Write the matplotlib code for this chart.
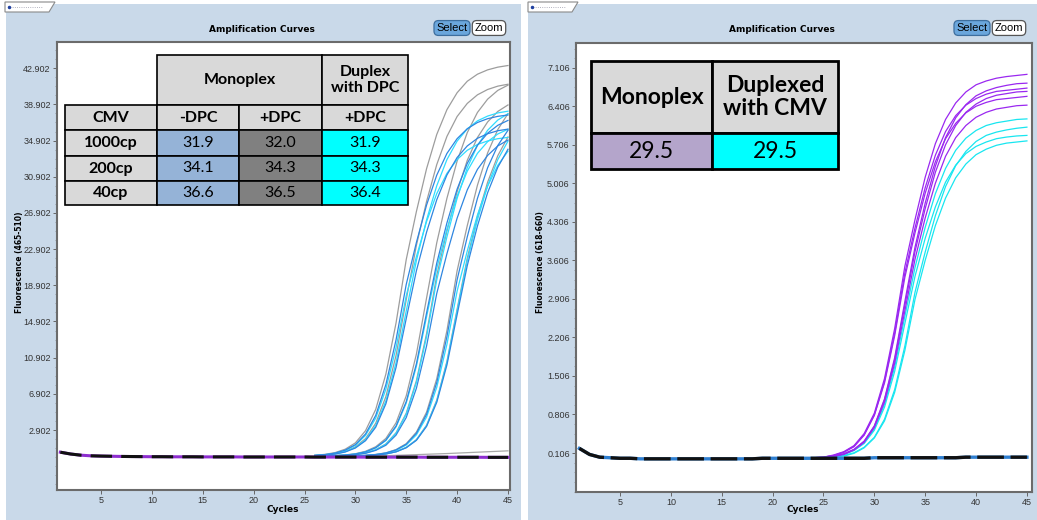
import matplotlib
matplotlib.use("Agg")
import matplotlib.pyplot as plt
from matplotlib.patches import Rectangle, Polygon
from matplotlib.lines import Line2D
from matplotlib.ticker import AutoMinorLocator

plt.rcParams['font.family'] = ['Liberation Sans', 'DejaVu Sans']

# ---------------- data ----------------
cycles_all = list(range(1, 46))
left_cycles = list(range(26, 46))
right_cycles = list(range(22, 46))

# left panel (465-510), three CMV dilutions, cycles 26..45
left_gray = [
    [0.11, 0.21, 0.40, 0.78, 1.48, 2.83, 5.18, 9.09, 14.75, 21.75, 27.06, 31.80, 35.58, 38.32, 40.19, 41.46, 42.24, 42.72, 43.02, 43.20],
    [0.07, 0.15, 0.28, 0.54, 1.04, 1.95, 3.65, 6.60, 11.16, 17.31, 23.32, 28.18, 32.25, 35.36, 37.56, 39.01, 39.96, 40.55, 40.92, 41.13],
    [0.02, 0.04, 0.08, 0.15, 0.28, 0.55, 1.05, 1.97, 3.70, 6.68, 11.30, 17.51, 23.60, 28.52, 32.63, 35.78, 38.01, 39.48, 40.45, 41.03],
    [0.01, 0.02, 0.05, 0.10, 0.19, 0.37, 0.72, 1.36, 2.60, 4.76, 8.36, 13.56, 20.00, 24.88, 29.24, 32.72, 35.24, 36.96, 38.12, 38.84],
    [0.00, 0.00, 0.01, 0.02, 0.05, 0.10, 0.20, 0.38, 0.74, 1.39, 2.67, 4.88, 8.57, 13.90, 20.50, 25.50, 29.97, 33.54, 36.12, 37.88],
    [0.00, 0.00, 0.01, 0.02, 0.04, 0.07, 0.14, 0.26, 0.51, 0.98, 1.83, 3.43, 6.20, 10.49, 16.26, 21.92, 26.48, 30.30, 33.23, 35.30],
]
left_blue = [
    [0.10, 0.18, 0.35, 0.68, 1.29, 2.47, 4.52, 7.94, 12.88, 19.00, 23.64, 27.78, 31.08, 33.48, 35.11, 36.21, 36.90, 37.32, 37.58, 37.73],
    [0.07, 0.13, 0.24, 0.47, 0.91, 1.72, 3.21, 5.80, 9.82, 15.22, 20.51, 24.78, 28.36, 31.10, 33.03, 34.31, 35.15, 35.66, 35.99, 36.17],
    [0.02, 0.03, 0.07, 0.13, 0.25, 0.49, 0.95, 1.79, 3.34, 6.04, 10.22, 15.85, 21.36, 25.80, 29.53, 32.38, 34.39, 35.72, 36.59, 37.13],
    [0.01, 0.02, 0.05, 0.09, 0.17, 0.33, 0.65, 1.22, 2.34, 4.28, 7.52, 12.20, 18.00, 22.39, 26.32, 29.45, 31.72, 33.26, 34.31, 34.96],
    [0.00, 0.00, 0.01, 0.02, 0.05, 0.10, 0.19, 0.36, 0.70, 1.33, 2.54, 4.64, 8.15, 13.22, 19.50, 24.26, 28.51, 31.90, 34.36, 36.04],
    [0.00, 0.00, 0.01, 0.02, 0.03, 0.07, 0.13, 0.25, 0.49, 0.94, 1.76, 3.30, 5.96, 10.09, 15.64, 21.08, 25.46, 29.14, 31.95, 33.94],
]
left_cyan = [
    [0.07, 0.13, 0.26, 0.50, 0.96, 1.81, 3.39, 6.12, 10.36, 16.05, 21.64, 26.14, 29.91, 32.80, 34.84, 36.19, 37.08, 37.61, 37.96, 38.15],
    [0.09, 0.17, 0.33, 0.64, 1.21, 2.31, 4.22, 7.42, 12.03, 17.75, 22.08, 25.95, 29.04, 31.28, 32.80, 33.83, 34.47, 34.86, 35.11, 35.25],
    [0.01, 0.02, 0.05, 0.10, 0.19, 0.36, 0.70, 1.33, 2.54, 4.64, 8.15, 13.22, 19.50, 24.26, 28.51, 31.90, 34.36, 36.04, 37.17, 37.87],
    [0.02, 0.03, 0.07, 0.13, 0.25, 0.48, 0.93, 1.74, 3.26, 5.88, 9.95, 15.43, 20.79, 25.12, 28.75, 31.52, 33.49, 34.78, 35.63, 36.15],
    [0.00, 0.00, 0.01, 0.02, 0.03, 0.07, 0.13, 0.26, 0.50, 0.96, 1.81, 3.39, 6.12, 10.36, 16.05, 21.64, 26.14, 29.91, 32.80, 34.84],
    [0.00, 0.00, 0.01, 0.02, 0.05, 0.09, 0.18, 0.34, 0.66, 1.24, 2.37, 4.34, 7.63, 12.37, 18.25, 22.70, 26.68, 29.86, 32.16, 33.73],
]
left_drift = [-0.08, -0.08, -0.08, -0.08, -0.05, -0.02, 0.02, 0.06, 0.10, 0.14,
              0.18, 0.22, 0.26, 0.30, 0.35, 0.40, 0.45, 0.50, 0.55, 0.60]
left_base = [0.45, 0.25, 0.12, 0.05, 0.02, 0.0, -0.02, -0.03, -0.04, -0.05,
             -0.05, -0.06, -0.06, -0.06, -0.07, -0.07, -0.07, -0.07, -0.08, -0.08,
             -0.08, -0.08, -0.08, -0.08, -0.08, -0.09, -0.09, -0.09, -0.09, -0.09,
             -0.10, -0.10, -0.10, -0.10, -0.10, -0.10, -0.11, -0.11, -0.11, -0.11,
             -0.11, -0.11, -0.12, -0.12, -0.12]

# right panel (618-660), cycles 22..45
right_purple = [
    [0.00, 0.01, 0.02, 0.03, 0.07, 0.13, 0.24, 0.46, 0.83, 1.46, 2.37, 3.50, 4.35, 5.12, 5.73, 6.17, 6.47, 6.67, 6.80, 6.87, 6.92, 6.95, 6.97, 6.99],
    [0.00, 0.01, 0.01, 0.02, 0.05, 0.09, 0.17, 0.32, 0.60, 1.09, 1.84, 2.86, 3.85, 4.65, 5.32, 5.84, 6.20, 6.44, 6.60, 6.69, 6.75, 6.79, 6.82, 6.83],
    [0.00, 0.01, 0.02, 0.03, 0.06, 0.12, 0.23, 0.44, 0.80, 1.41, 2.29, 3.38, 4.20, 4.93, 5.52, 5.95, 6.24, 6.43, 6.55, 6.63, 6.68, 6.70, 6.72, 6.74],
    [0.00, 0.01, 0.01, 0.02, 0.05, 0.09, 0.17, 0.32, 0.59, 1.07, 1.80, 2.79, 3.77, 4.55, 5.21, 5.71, 6.06, 6.30, 6.45, 6.55, 6.61, 6.64, 6.67, 6.68],
    [0.00, 0.01, 0.02, 0.03, 0.06, 0.12, 0.22, 0.43, 0.79, 1.38, 2.24, 3.30, 4.11, 4.83, 5.40, 5.82, 6.10, 6.29, 6.41, 6.48, 6.53, 6.55, 6.57, 6.59],
    [0.00, 0.01, 0.01, 0.02, 0.04, 0.08, 0.16, 0.30, 0.57, 1.03, 1.74, 2.69, 3.63, 4.38, 5.01, 5.50, 5.84, 6.06, 6.21, 6.30, 6.36, 6.39, 6.42, 6.43],
]
right_cyan = [
    [0.00, 0.01, 0.01, 0.02, 0.04, 0.08, 0.16, 0.29, 0.55, 0.99, 1.67, 2.59, 3.48, 4.21, 4.82, 5.28, 5.61, 5.83, 5.97, 6.06, 6.11, 6.14, 6.17, 6.18],
    [0.00, 0.00, 0.01, 0.02, 0.03, 0.06, 0.11, 0.21, 0.39, 0.72, 1.26, 2.05, 3.03, 3.76, 4.42, 4.95, 5.33, 5.59, 5.77, 5.88, 5.94, 5.98, 6.01, 6.03],
    [0.00, 0.01, 0.01, 0.02, 0.04, 0.08, 0.15, 0.28, 0.52, 0.94, 1.59, 2.46, 3.32, 4.01, 4.58, 5.03, 5.34, 5.55, 5.68, 5.76, 5.82, 5.85, 5.87, 5.88],
    [0.00, 0.00, 0.01, 0.02, 0.03, 0.05, 0.10, 0.20, 0.38, 0.69, 1.21, 1.97, 2.90, 3.61, 4.24, 4.74, 5.11, 5.36, 5.53, 5.63, 5.70, 5.74, 5.76, 5.78],
]
right_base = [0.19, 0.08, 0.03, 0.02, 0.01, 0.01, 0.0, 0.0, 0.0, 0.0,
              0.0, 0.0, 0.0, 0.0, 0.0, 0.0, 0.0, 0.0, 0.01, 0.01,
              0.01, 0.01, 0.01, 0.01, 0.01, 0.01, 0.01, 0.01, 0.01, 0.02,
              0.02, 0.02, 0.02, 0.02, 0.02, 0.02, 0.02, 0.02, 0.03, 0.03,
              0.03, 0.03, 0.03, 0.03, 0.03]

left_yticks = [2.902, 6.902, 10.902, 14.902, 18.902, 22.902, 26.902, 30.902, 34.902, 38.902, 42.902]
right_yticks = [0.106, 0.806, 1.506, 2.206, 2.906, 3.606, 4.306, 5.006, 5.706, 6.406, 7.106]
xticks = [5, 10, 15, 20, 25, 30, 35, 40, 45]

# tables
cmv_rows = ["1000cp", "200cp", "40cp"]
mono_minus_dpc = ["31.9", "34.1", "36.6"]
mono_plus_dpc = ["32.0", "34.3", "36.5"]
duplex_dpc = ["31.9", "34.3", "36.4"]
dpc_monoplex = "29.5"
dpc_duplexed = "29.5"

# ---------------- figure ----------------
W, H = 1037, 520
fig = plt.figure(figsize=(W / 100, H / 100), dpi=100)
fig.patch.set_facecolor("white")


def fx(x):
    return x / W


def fy(y):
    return 1 - y / H


def rect_px(x0, y0, x1, y1, **kw):
    r = Rectangle((fx(x0), fy(y1)), (x1 - x0) / W, (y1 - y0) / H,
                  transform=fig.transFigure, **kw)
    fig.add_artist(r)
    return r


panel_col = "#c9d9e9"
rect_px(6, 4, 521, 520, fc=panel_col, ec="none", zorder=-5)
rect_px(528, 4, 1037, 520, fc=panel_col, ec="none", zorder=-5)

# little tabs top-left of each panel
for x0 in (5, 528):
    fig.add_artist(Polygon([(fx(x0), fy(2)), (fx(x0 + 50), fy(2)), (fx(x0 + 44), fy(12)), (fx(x0), fy(12))],
                           closed=True, transform=fig.transFigure, fc="white", ec="#8a8a8a", lw=0.8, zorder=-4))
    fig.add_artist(Line2D([fx(x0 + 5), fx(x0 + 38)], [fy(7), fy(7)], transform=fig.transFigure,
                          color="#9a9aaa", lw=0.6, ls=":", zorder=-3))
    fig.add_artist(Line2D([fx(x0 + 4)], [fy(7)], transform=fig.transFigure, marker="o", ms=1.5,
                          color="#2040a0", zorder=-3))

ax1 = fig.add_axes([fx(57), fy(490), (510 - 57) / W, (490 - 42) / H])
ax2 = fig.add_axes([fx(576), fy(492), (1032 - 576) / W, (492 - 43) / H])

# left curves
for vals in left_gray:
    ax1.plot(left_cycles, vals, color="#9d9d9d", lw=0.9, zorder=2)
for vals in left_cyan:
    ax1.plot(left_cycles, vals, color="#2fdcff", lw=0.9, zorder=3)
for vals in left_blue:
    ax1.plot(left_cycles, vals, color="#2f86e0", lw=0.9, zorder=4)
ax1.plot(left_cycles, left_drift, color="#a8a8a8", lw=0.9, zorder=2)
ax1.plot(cycles_all, left_base, color="#8e2fd0", lw=2.2, zorder=5)
ax1.plot(cycles_all, left_base, color="#111111", lw=2.2, dashes=(7, 3), zorder=6)

# right curves
for vals in right_cyan:
    ax2.plot(right_cycles, vals, color="#18e6f0", lw=0.9, zorder=3)
for vals in right_purple:
    ax2.plot(right_cycles, vals, color="#9a28f0", lw=0.9, zorder=4)
ax2.plot(cycles_all, right_base, color="#2f7fd0", lw=2.4, zorder=5)
ax2.plot(cycles_all, right_base, color="#111111", lw=2.4, dashes=(8, 2), zorder=6)

ax1.set_xlim(0.67, 45.2)
ax1.set_ylim(-3.73, 45.8)
ax2.set_xlim(0.67, 45.5)
ax2.set_ylim(-0.603, 7.56)

ax1.set_yticks(left_yticks)
ax1.set_yticklabels(["%.3f" % v for v in left_yticks])
ax2.set_yticks(right_yticks)
ax2.set_yticklabels(["%.3f" % v for v in right_yticks])

for ax in (ax1, ax2):
    ax.set_xticks(xticks)
    ax.yaxis.set_minor_locator(AutoMinorLocator(4))
    ax.tick_params(axis="both", which="major", direction="out", length=3, width=0.7,
                   color="#666666", labelsize=6.5, labelcolor="#333333", pad=1.5)
    ax.tick_params(axis="y", which="minor", direction="out", length=1.5, width=0.5, color="#888888")
    for s in ax.spines.values():
        s.set_color("#6b6b6b")
        s.set_linewidth(1.5)
    ax.set_facecolor("white")

# titles, labels, buttons
for cx, lx, bx in ((262, 20, 435), (782, 540, 955)):
    fig.text(fx(cx), fy(30), "Amplification Curves", ha="center", va="center",
             fontsize=6.5, fontweight="bold", family="DejaVu Sans")
    fig.text(fx(lx), fy(262), "Fluorescence (465-510)" if cx < 500 else "Fluorescence (618-660)",
             rotation=90, ha="center", va="center", fontsize=5.5, fontweight="bold", family="DejaVu Sans")
    fig.text(fx(bx + 17), fy(28), "Select", ha="center", va="center", fontsize=8,
             bbox=dict(boxstyle="round,pad=0.22,rounding_size=0.4", fc="#6aa6dc", ec="#3d6e9e", lw=0.9))
    fig.text(fx(bx + 54), fy(28), "Zoom", ha="center", va="center", fontsize=8,
             bbox=dict(boxstyle="round,pad=0.22,rounding_size=0.4", fc="white", ec="#555555", lw=0.9))

fig.text(fx(283), fy(510), "Cycles", ha="center", va="center", fontsize=6.5, fontweight="bold", family="DejaVu Sans")
fig.text(fx(803), fy(510), "Cycles", ha="center", va="center", fontsize=6.5, fontweight="bold", family="DejaVu Sans")


# ---------------- tables ----------------
def cell(x0, y0, x1, y1, fc, text="", size=11.5, bold=False, lw=1.2):
    rect_px(x0, y0, x1, y1, fc=fc, ec="black", lw=lw, zorder=10)
    if text:
        fig.text((fx(x0) + fx(x1)) / 2, (fy(y0) + fy(y1)) / 2, text, ha="center", va="center",
                 fontsize=size, fontweight="bold" if bold else "normal", family="Lato",
                 linespacing=1.15, zorder=11)


hdr = "#d9d9d9"
cols = [65, 157, 239, 322, 408]
rows = [55, 105, 130, 156, 181, 205]
cell(cols[1], rows[0], cols[3], rows[1], hdr, "Monoplex", bold=True)
cell(cols[3], rows[0], cols[4], rows[1], hdr, "Duplex\nwith DPC", bold=True)
cell(cols[0], rows[1], cols[1], rows[2], hdr, "CMV", bold=True)
cell(cols[1], rows[1], cols[2], rows[2], hdr, "-DPC", bold=True)
cell(cols[2], rows[1], cols[3], rows[2], hdr, "+DPC", bold=True)
cell(cols[3], rows[1], cols[4], rows[2], hdr, "+DPC", bold=True)
for i, lab in enumerate(cmv_rows):
    y0, y1 = rows[i + 2], rows[i + 3]
    cell(cols[0], y0, cols[1], y1, hdr, lab, bold=True)
    cell(cols[1], y0, cols[2], y1, "#95b3d7", mono_minus_dpc[i])
    cell(cols[2], y0, cols[3], y1, "#808080", mono_plus_dpc[i])
    cell(cols[3], y0, cols[4], y1, "#00ffff", duplex_dpc[i])

rc = [591, 712, 838]
rr = [61, 133, 169]
cell(rc[0], rr[0], rc[1], rr[1], hdr, "Monoplex", size=16.5, bold=True, lw=2)
cell(rc[1], rr[0], rc[2], rr[1], hdr, "Duplexed\nwith CMV", size=16.5, bold=True, lw=2)
cell(rc[0], rr[1], rc[1], rr[2], "#b4a5cb", dpc_monoplex, size=16.5, lw=2)
cell(rc[1], rr[1], rc[2], rr[2], "#00ffff", dpc_duplexed, size=16.5, lw=2)

fig.savefig("out.png", dpi=100)
